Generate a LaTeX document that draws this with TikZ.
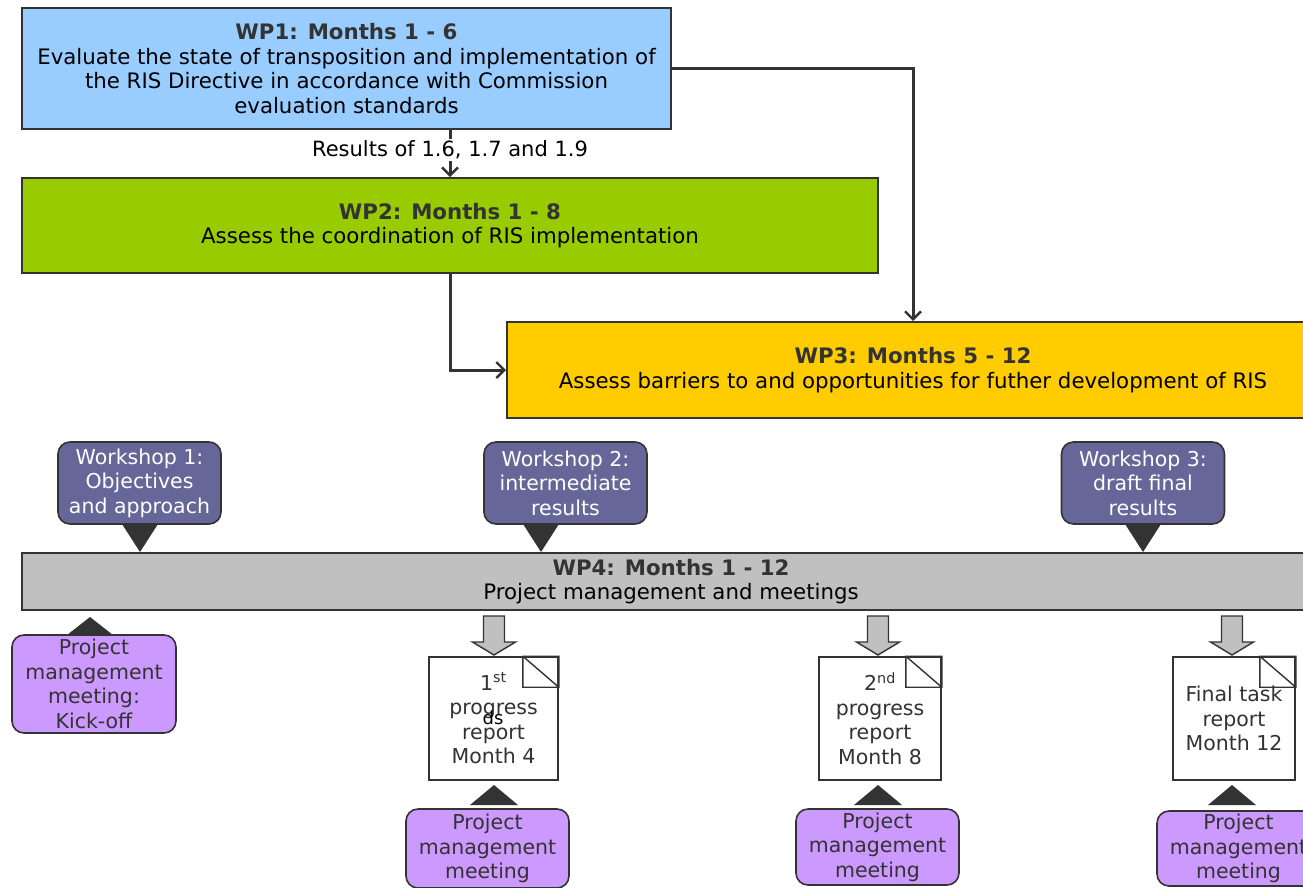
\documentclass[tikz,border=0pt]{standalone}
\usepackage{fontspec}
\setmainfont{DejaVu Sans}
\usetikzlibrary{arrows.meta,calc}
\definecolor{ink}{HTML}{333333}
\definecolor{wpblue}{HTML}{99CCFF}
\definecolor{wpgreen}{HTML}{99CC00}
\definecolor{wpyellow}{HTML}{FFCC00}
\definecolor{wpgrey}{HTML}{C0C0C0}
\definecolor{wsviolet}{HTML}{666699}
\definecolor{pmlilac}{HTML}{CC99FF}
\tikzset{
  txt/.style={font=\fontsize{20.5}{24.5}\selectfont, align=center, text=ink},
  wpbox/.style={font=\fontsize{21.3}{24.7}\selectfont, align=center, draw=ink,
    line width=2pt, inner sep=0pt, text=black},
  wsbox/.style={txt, draw=ink, line width=1.6pt, fill=wsviolet, text=white,
    rounded corners=12pt, minimum width=163pt, minimum height=82pt, inner sep=0pt},
  pmbox/.style={txt, draw=ink, line width=1.6pt, fill=pmlilac,
    rounded corners=12pt, minimum width=163pt, inner sep=0pt},
  docbox/.style={txt, draw=ink, line width=1.6pt, fill=white,
    minimum height=123pt, inner sep=0pt},
  flow/.style={draw=ink, line width=3pt,
    -{Straight Barb[length=8pt,width=16pt,line width=2.4pt]}},
  pointer/.style={fill=ink},
  blockarrow/.style={draw=ink, line width=1.4pt, fill=wpgrey, line join=miter}
}
\begin{document}
\begin{tikzpicture}[x=1pt,y=-1pt]
\clip (0,0) rectangle (1303,887);
\fill[white] (0,0) rectangle (1303,887);

% work packages
\node[wpbox, fill=wpblue, minimum width=649pt, minimum height=121pt] (wp1) at (346.5,68.5)
  {{\bfseries\color{ink}WP1: Months 1 - 6}\\Evaluate the state of transposition and implementation of\\the RIS Directive in accordance with Commission\\evaluation standards};
\node[wpbox, fill=wpgreen, minimum width=856pt, minimum height=95pt] (wp2) at (450,225.5)
  {{\bfseries\color{ink}WP2: Months 1 - 8}\\Assess the coordination of RIS implementation};
\node[wpbox, fill=wpyellow, minimum width=812pt, minimum height=96pt] (wp3) at (913,370)
  {{\bfseries\color{ink}WP3: Months 5 - 12}\\Assess barriers to and opportunities for futher development of RIS};
\node[wpbox, fill=wpgrey, minimum width=1298pt, minimum height=57pt] (wp4) at (671,581.5)
  {{\bfseries\color{ink}WP4: Months 1 - 12}\\Project management and meetings};

% dependencies between work packages
\coordinate (wp1out) at (wp1.south -| wp2.north);
\draw[flow] (wp1out) -- node[fill=white, font=\fontsize{21}{24}\selectfont, text=black,
  inner sep=2pt, pos=0.43] (res) {Results of 1.6, 1.7 and 1.9} (wp2.north);
\draw[flow] (wp1.east) -| (wp3.north);
\draw[flow] (wp2.south) |- (wp3.west);

% workshops
\node[wsbox] (ws1) at (139.5,483) {Workshop 1:\\Objectives\\and approach};
\node[wsbox] (ws2) at (565.5,483) {Workshop 2:\\intermediate\\results};
\node[wsbox] (ws3) at (1143,483) {Workshop 3:\\draft final\\results};
\foreach \n/\x in {ws1/140, ws2/541, ws3/1143}{
  \fill[pointer] (\x-18,524) -- (\x+18,524) -- (\x,552) -- cycle;
}

% kick-off meeting
\node[pmbox, minimum width=164pt, minimum height=98pt] (pm0) at (94,684)
  {Project\\management\\meeting:\\Kick-off};
\fill[pointer] (67,635) -- (113,635) -- (90,617) -- cycle;

% reports
\node[docbox, minimum width=129pt] (d1) at (493.5,718.5) {1\textsuperscript{st}\\progress\\report\\Month 4};
\node[docbox, minimum width=122pt] (d2) at (880,718.5) {2\textsuperscript{nd}\\progress\\report\\Month 8};
\node[docbox, minimum width=122pt] (d3) at (1234,718.5) {Final task\\report\\Month 12};
\node[font=\fontsize{18}{20}\selectfont, text=black, inner sep=0pt] (ds) at (493,718) {ds};
\foreach \d in {d1,d2,d3}{
  \draw[draw=ink, line width=1.4pt] ($(\d.north east)+(-36,0)$) rectangle ($(\d.north east)+(0,31)$)
    ($(\d.north east)+(-36,0)$) -- ($(\d.north east)+(0,31)$);
}
\foreach \x in {494, 878, 1232}{
  \draw[blockarrow] (\x-10.5,616) -- (\x+10.5,616) -- (\x+10.5,642) -- (\x+21.5,642)
    -- (\x,655) -- (\x-21.5,642) -- (\x-10.5,642) -- cycle;
}

% progress meetings
\node[pmbox, minimum height=79pt] (pm1) at (487.5,848.5) {Project\\management\\meeting};
\node[pmbox, minimum height=76pt] (pm2) at (877.5,847) {Project\\management\\meeting};
\node[pmbox, minimum height=75pt] (pm3) at (1238.5,848.5) {Project\\management\\meeting};
\foreach \x in {494, 878, 1232}{
  \fill[pointer] (\x-24,805) -- (\x+24,805) -- (\x,785) -- cycle;
}
\end{tikzpicture}
\end{document}
